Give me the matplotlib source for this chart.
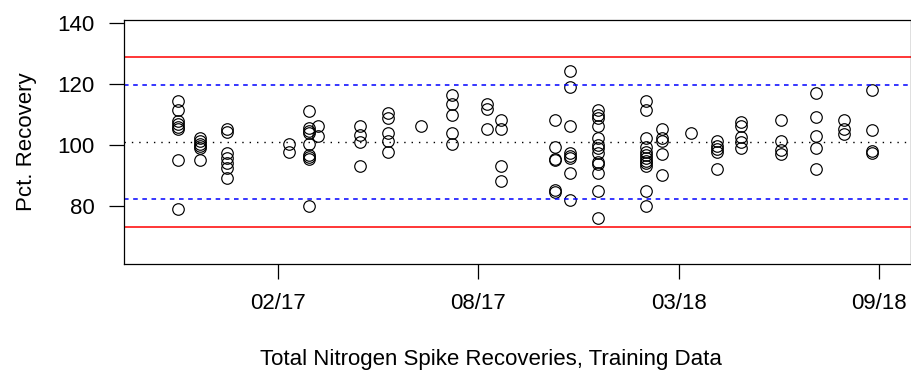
import numpy as np
import pandas as pd
import matplotlib
matplotlib.use("Agg")
import matplotlib.pyplot as plt
import matplotlib.dates as mdates

plt.rcParams['font.family'] = ['Liberation Sans', 'DejaVu Sans']

# spike recovery runs (date of run, pct recovery of each spike)
run_dates = ["2016-10-26", "2016-11-17", "2016-12-14", "2017-02-14", "2017-03-06",
             "2017-03-15", "2017-04-26", "2017-05-24", "2017-06-26", "2017-07-27",
             "2017-08-31", "2017-09-14", "2017-11-06", "2017-11-21", "2017-12-19",
             "2018-02-05", "2018-02-21", "2018-03-22", "2018-04-17", "2018-05-11",
             "2018-06-20", "2018-07-25", "2018-08-22", "2018-09-19"]
recoveries = [
    [114.4, 111.5, 107.9, 106.9, 106.0, 105.2, 95.0, 79.0],
    [102.4, 101.3, 100.5, 99.8, 98.9, 95.0],
    [105.2, 104.4, 97.3, 95.6, 94.0, 92.4, 89.1],
    [100.2, 97.8],
    [111.1, 105.5, 104.6, 103.8, 100.2, 96.9, 96.2, 95.4, 80.0],
    [106.2, 103.1],
    [106.2, 103.3, 101.1, 93.1],
    [110.4, 109.0, 104.0, 101.3, 97.8],
    [106.2],
    [116.4, 113.3, 110.0, 103.8, 100.2],
    [113.3, 111.8, 105.2],
    [108.2, 105.2, 93.1, 88.2],
    [108.2, 99.5, 95.4, 95.1, 85.3, 84.7],
    [124.2, 118.9, 106.2, 97.3, 96.5, 95.9, 91.0, 82.0],
    [111.5, 109.8, 109.0, 106.2, 102.4, 100.0, 98.9, 97.3, 94.5, 93.7, 91.0, 84.9, 76.0],
    [114.4, 111.5, 102.2, 99.5, 97.8, 96.9, 95.9, 94.8, 94.0, 93.2, 84.9, 80.0],
    [105.2, 102.2, 101.3, 97.1, 90.2],
    [104.1],
    [101.3, 99.8, 98.7, 97.8, 92.0],
    [107.6, 106.3, 102.7, 101.1, 99.1],
    [108.2, 101.3, 98.4, 97.1],
    [117.1, 109.1, 103.1, 99.1, 92.0],
    [108.2, 105.2, 103.5],
    [118.2, 105.1, 98.1, 97.5],
]

# control limits: mean, +/- 2 sd (warning), +/- 3 sd (control)
center = 101.0
sd = 9.3

tick_dates = ["2017-02-03", "2017-08-22", "2018-03-10", "2018-09-26"]
y_ticks = [80, 100, 120, 140]

df = pd.DataFrame({
    "date": np.repeat(pd.to_datetime(run_dates), [len(r) for r in recoveries]),
    "pct": np.concatenate(recoveries),
})

fig = plt.figure(figsize=(9.12, 3.81), dpi=100)
ax = fig.add_axes([0.136, 0.307, 0.8629, 0.6405])

ax.plot(df.date, df.pct, linestyle="none", marker="o", markersize=8.3,
        markerfacecolor="none", markeredgecolor="black", markeredgewidth=0.85)

ax.axhline(center + 3 * sd, color="red", lw=1.1)
ax.axhline(center - 3 * sd, color="red", lw=1.1)
ax.axhline(center + 2 * sd, color="blue", lw=1.1, linestyle=(0, (3, 3)))
ax.axhline(center - 2 * sd, color="blue", lw=1.1, linestyle=(0, (3, 3)))
ax.axhline(center, color="black", lw=1.0, linestyle=(0, (1, 4.3)))

ax.set_xlim(pd.Timestamp("2016-09-02"), pd.Timestamp("2018-10-28"))
ax.set_ylim(61, 141)
ax.set_xticks(pd.to_datetime(tick_dates))
ax.xaxis.set_major_formatter(mdates.DateFormatter("%m/%y"))
ax.set_yticks(y_ticks)

for s in ax.spines.values():
    s.set_linewidth(0.9)
ax.tick_params(direction="out", length=11, width=0.9, labelsize=16, pad=10)

ax.set_xlabel("Total Nitrogen Spike Recoveries, Training Data", fontsize=16)
ax.xaxis.set_label_coords(0.466, -0.35)
ax.set_ylabel("Pct. Recovery", fontsize=16, labelpad=15)

fig.savefig("out.png", dpi=100)
